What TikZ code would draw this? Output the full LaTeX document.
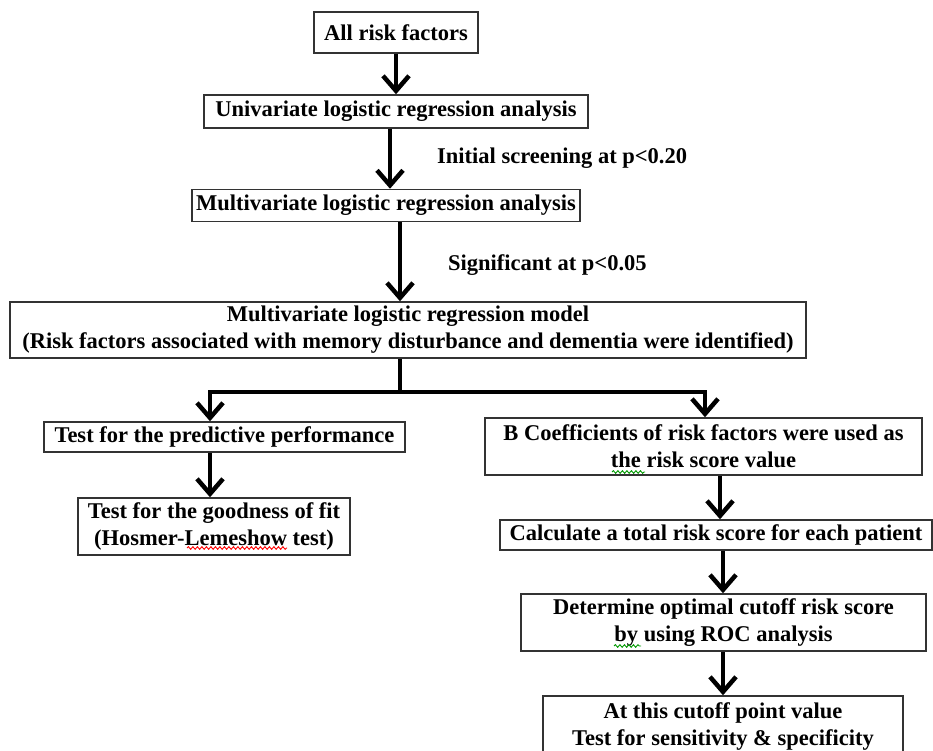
\documentclass[tikz,border=0pt]{standalone}
\usepackage{fontspec}
\setmainfont{Liberation Serif}
\usetikzlibrary{arrows.meta,decorations.pathmorphing}
\begin{document}
\begin{tikzpicture}[x=1pt,y=-1pt,
  box/.style={draw=black!80, line width=1.5pt, fill=white, inner sep=0pt, align=center,
    font=\fontsize{22.5}{27}\selectfont\bfseries},
  lbl/.style={anchor=west, inner sep=0pt, font=\fontsize{22.5}{27}\selectfont\bfseries},
  conn/.style={line width=4.5pt},
  arr/.style={conn, -{Straight Barb[length=15pt,width=26pt]}},
  squig/.style={line width=0.9pt, decorate, decoration={snake, segment length=4.5pt, amplitude=1.3pt}}]
\useasboundingbox (0,0) rectangle (933,751);

\node[box, minimum width=164pt, minimum height=41pt] (b1) at (396,32.5) {All risk factors};
\node[box, minimum width=384pt, minimum height=33pt] (b2) at (396,111.5) {Univariate logistic regression analysis};
\node[box, minimum width=388pt, minimum height=32pt] (b3) at (386,205.5) {Multivariate logistic regression analysis};
\node[box, minimum width=796pt, minimum height=56pt] (b4) at (408,330) {Multivariate logistic regression model\\(Risk factors associated with memory disturbance and dementia were identified)};
\node[box, minimum width=361pt, minimum height=30pt] (b5) at (224.5,437) {Test for the predictive performance};
\node[box, minimum width=272pt, minimum height=57pt] (b6) at (214,526.5) {Test for the goodness of fit\\(Hosmer-Lemeshow test)};
\node[box, minimum width=437pt, minimum height=57pt] (b7) at (703.5,446.5) {B Coefficients of risk factors were used as\\the risk score value};
\node[box, minimum width=432pt, minimum height=30pt] (b8) at (716,535) {Calculate a total risk score for each patient};
\node[box, minimum width=405pt, minimum height=57pt] (b9) at (723.5,622.5) {Determine optimal cutoff risk score\\by using ROC analysis};
\node[box, minimum width=360pt, minimum height=60pt] (b10) at (723,726) {At this cutoff point value\\Test for sensitivity \& specificity};

\node[lbl] (l1) at (437,158) {Initial screening at p<0.20};
\node[lbl] (l2) at (448,265) {Significant at p<0.05};

% spell-check squiggles
\draw[squig, red] (187,548) -- (287,548);
\draw[squig, green!60!black] (612,472) -- (645,472);
\draw[squig, green!60!black] (614,646) -- (641,646);

\coordinate (x23) at (390,0);
\coordinate (x34) at (400,0);
\coordinate (br) at (400,392);
\coordinate (xl) at (210,0);
\coordinate (xr) at (705,0);
\coordinate (x78) at (720,0);
\coordinate (x89) at (723,0);

\draw[arr] (b1.south) -- (b2.north);
\draw[arr] (b2.south -| x23) -- (b3.north -| x23);
\draw[arr] (b3.south -| x34) -- (b4.north -| x34);
\draw[conn] (b4.south -| br) -- (br);
\draw[arr] (br) -| (b5.north -| xl);
\draw[arr] (br) -| (b7.north -| xr);
\draw[arr] (b5.south -| xl) -- (b6.north -| xl);
\draw[arr] (b7.south -| x78) -- (b8.north -| x78);
\draw[arr] (b8.south -| x89) -- (b9.north -| x89);
\draw[arr] (b9.south -| x89) -- (b10.north -| x89);
\end{tikzpicture}
\end{document}
